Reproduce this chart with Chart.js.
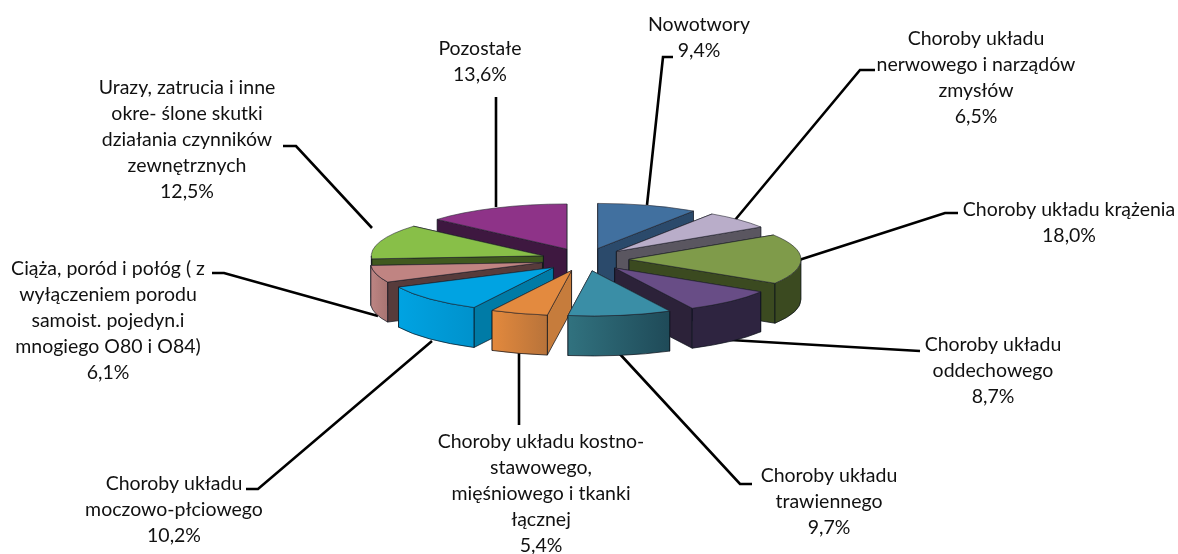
<!DOCTYPE html>
<html lang="pl">
<head>
  <meta charset="UTF-8">
  <title>Struktura przyczyn</title>
  <script src="https://cdn.jsdelivr.net/npm/chart.js"></script>
  <style>
    html, body { margin: 0; background: #fff; }
    canvas { display: block; }
  </style>
</head>
<body>
  <canvas id="wykres" width="1178" height="554"></canvas>
  <script>
    // dane
    const kategorie = [
      ['Nowotwory'],
      ['Choroby układu', 'nerwowego i narządów', 'zmysłów'],
      ['Choroby układu krążenia'],
      ['Choroby układu', 'oddechowego'],
      ['Choroby układu', 'trawiennego'],
      ['Choroby układu kostno-', 'stawowego,', 'mięśniowego i tkanki', 'łącznej'],
      ['Choroby układu', 'moczowo-płciowego'],
      ['Ciąża, poród i połóg ( z', 'wyłączeniem porodu', 'samoist. pojedyn.i', 'mnogiego O80 i O84)'],
      ['Urazy, zatrucia i inne', 'okre- ślone skutki', 'działania czynników', 'zewnętrznych'],
      ['Pozostałe']
    ];
    const wartosci = [9.4, 6.5, 18.0, 8.7, 9.7, 5.4, 10.2, 6.1, 12.5, 13.6];

    // kolory: wierzch, bok, obrzeze od lewej do prawej
    const koloryWierzch = ['#41709f', '#b9adc9', '#7f9b4a', '#684d86', '#3a8ea6', '#e38a3f', '#00a3e2', '#c08482', '#88bf48', '#8e3388'];
    const koloryBok = ['#2b4a6b', '#5a5660', '#3b4a20', '#2c2239', '#2a6272', '#c67c3c', '#007ba6', '#573b3b', '#40591f', '#3e1840'];
    const koloryObrzezeL = ['#2b4a6b', '#5a5660', '#3b4a20', '#2e2440', '#31727f', '#e3893d', '#00a3e2', '#bd8583', '#40591f', '#3e1840'];
    const koloryObrzezeP = ['#2b4a6b', '#5a5660', '#3b4a20', '#2e2440', '#1f4a58', '#b8733a', '#0092cc', '#a87472', '#40591f', '#3e1840'];

    // polozenie podpisow: srodek tekstu, pierwsza linia bazowa
    const podpisyX = [699, 976, 1069, 993, 829, 541, 174, 108, 187, 480];
    const podpisyY = [31, 45, 216, 351, 482, 448, 490, 275, 94, 55];
    const wysokoscLinii = 26;

    // linie odniesienia
    const linie = [
      [[673, 57], [663, 57], [647, 205]],
      [[875, 70], [860, 70], [735, 220]],
      [[958, 213], [945, 213], [799, 260]],
      [[920, 351], [730, 340]],
      [[752, 484], [740, 484], [618, 352]],
      [[519, 425], [519, 352]],
      [[246, 489], [258, 489], [432, 341]],
      [[212, 273], [224, 273], [378, 316]],
      [[283, 146], [296, 146], [372, 228]],
      [[496, 97], [496, 207]]
    ];

    const splaszczenie = 0.262;
    const glebokosc = 40;
    const odsuniecie = 44;

    function geometria(arc) {
      const srodek = (arc.startAngle + arc.endAngle) / 2;
      const x = arc.x + Math.cos(srodek) * odsuniecie;
      const y = arc.y + Math.sin(srodek) * odsuniecie * splaszczenie;
      return { x, y, r: arc.outerRadius, start: arc.startAngle, end: arc.endAngle };
    }

    function punkt(g, kat) {
      return [g.x + g.r * Math.cos(kat), g.y + g.r * Math.sin(kat) * splaszczenie];
    }

    function sciana(ctx, g, kat, kolor) {
      const p = punkt(g, kat);
      ctx.beginPath();
      ctx.moveTo(g.x, g.y);
      ctx.lineTo(p[0], p[1]);
      ctx.lineTo(p[0], p[1] + glebokosc);
      ctx.lineTo(g.x, g.y + glebokosc);
      ctx.closePath();
      ctx.fillStyle = kolor;
      ctx.fill();
      ctx.stroke();
    }

    function obrzeze(ctx, g, i) {
      // widoczna tylko czesc obrzeza od strony patrzacego
      const tau = Math.PI * 2;
      const zakresy = [[0, Math.PI], [tau, tau + Math.PI]];
      zakresy.forEach(function (z) {
        const a = Math.max(g.start, z[0]);
        const b = Math.min(g.end, z[1]);
        if (b <= a) return;
        const l = punkt(g, b);
        const p = punkt(g, a);
        const grad = ctx.createLinearGradient(l[0], 0, p[0], 0);
        grad.addColorStop(0, koloryObrzezeL[i]);
        grad.addColorStop(1, koloryObrzezeP[i]);
        ctx.beginPath();
        ctx.ellipse(g.x, g.y, g.r, g.r * splaszczenie, 0, a, b);
        ctx.ellipse(g.x, g.y + glebokosc, g.r, g.r * splaszczenie, 0, b, a, true);
        ctx.closePath();
        ctx.fillStyle = grad;
        ctx.fill();
        ctx.stroke();
      });
    }

    const wycinki3d = {
      id: 'wycinki3d',
      beforeDatasetsDraw(chart) {
        const ctx = chart.ctx;
        const luki = chart.getDatasetMeta(0).data;

        // linie odniesienia pod wycinkami
        ctx.save();
        ctx.strokeStyle = '#000';
        ctx.lineWidth = 2.6;
        linie.forEach(function (l) {
          ctx.beginPath();
          l.forEach(function (p, i) { i ? ctx.lineTo(p[0], p[1]) : ctx.moveTo(p[0], p[1]); });
          ctx.stroke();
        });
        ctx.restore();

        // od tylu do przodu
        const kolejnosc = luki.map(function (a, i) { return i; }).sort(function (a, b) {
          return Math.sin((luki[a].startAngle + luki[a].endAngle) / 2) - Math.sin((luki[b].startAngle + luki[b].endAngle) / 2);
        });

        kolejnosc.forEach(function (i) {
          const arc = luki[i];
          const g = geometria(arc);
          ctx.save();
          ctx.strokeStyle = 'rgba(10,15,25,0.8)';
          ctx.lineWidth = 0.9;
          ctx.lineJoin = 'round';

          const ps = punkt(g, g.start);
          const pe = punkt(g, g.end);
          if (ps[1] < pe[1]) {
            sciana(ctx, g, g.start, koloryBok[i]);
            sciana(ctx, g, g.end, koloryBok[i]);
          } else {
            sciana(ctx, g, g.end, koloryBok[i]);
            sciana(ctx, g, g.start, koloryBok[i]);
          }
          obrzeze(ctx, g, i);

          // wierzch rysuje sam element Chart.js, scisniety w pionie i odsuniety
          ctx.save();
          ctx.translate(g.x - arc.x, g.y);
          ctx.scale(1, splaszczenie);
          ctx.translate(0, -arc.y);
          arc.draw(ctx);
          ctx.restore();

          ctx.beginPath();
          ctx.moveTo(g.x, g.y);
          ctx.ellipse(g.x, g.y, g.r, g.r * splaszczenie, 0, g.start, g.end);
          ctx.closePath();
          ctx.strokeStyle = 'rgba(40,40,50,0.65)';
          ctx.stroke();
          ctx.restore();
        });
        return false;
      },
      afterDraw(chart) {
        const ctx = chart.ctx;
        ctx.save();
        ctx.font = '19.5px Lato';
        ctx.fillStyle = '#111';
        ctx.textAlign = 'center';
        ctx.textBaseline = 'alphabetic';
        kategorie.forEach(function (wiersze, i) {
          const tekst = wiersze.concat([wartosci[i].toFixed(1).replace('.', ',') + '%']);
          tekst.forEach(function (w, n) {
            ctx.fillText(w, podpisyX[i], podpisyY[i] + n * wysokoscLinii);
          });
        });
        ctx.restore();
      }
    };

    new Chart(document.getElementById('wykres'), {
      type: 'pie',
      data: {
        labels: kategorie.map(function (k) { return k.join(' '); }),
        datasets: [{
          data: wartosci,
          backgroundColor: koloryWierzch,
          borderWidth: 0,
          radius: 172
        }]
      },
      options: {
        responsive: false,
        animation: false,
        layout: { padding: { right: 8, bottom: 35 } },
        plugins: { legend: { display: false }, tooltip: { enabled: false } }
      },
      plugins: [wycinki3d]
    });
  </script>
</body>
</html>
